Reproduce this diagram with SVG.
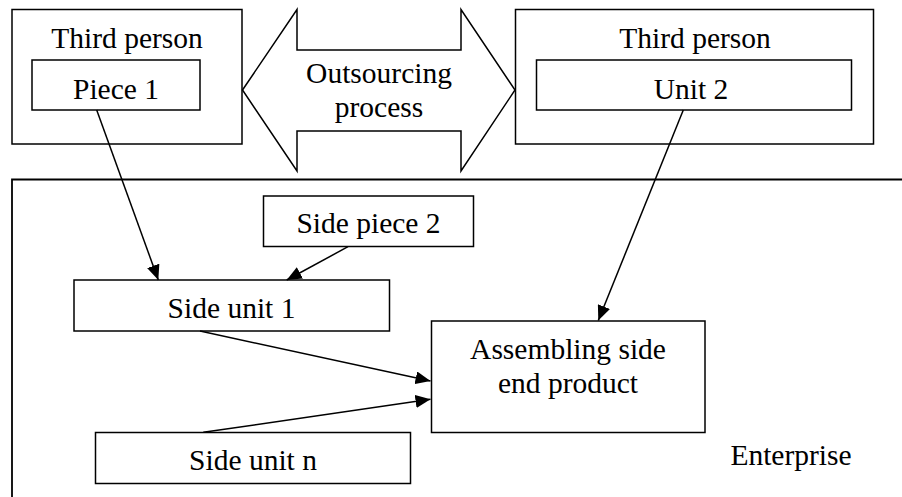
<svg xmlns="http://www.w3.org/2000/svg" width="902" height="497" viewBox="0 0 902 497">
<style>
.box{fill:#fff;stroke:#000;stroke-width:1.5}
.t{font-family:"Liberation Serif","Times New Roman",serif;font-size:29.5px;fill:#000;text-anchor:middle}
.c{stroke:#000;stroke-width:1.5;fill:none;marker-end:url(#ah)}
</style>
<defs>
<marker id="ah" markerUnits="userSpaceOnUse" markerWidth="16" markerHeight="13" refX="15" refY="6.5" orient="auto">
<path d="M0,0 L15,6.5 L0,13 z" fill="#000"/>
</marker>
</defs>
<rect width="902" height="497" fill="#fff"/>
<g id="enterprise">
<path d="M12,497 V179.5 H902" fill="none" stroke="#000" stroke-width="1.8"/>
<text class="t" x="791" y="465">Enterprise</text>
</g>
<g id="third-person-left">
<rect class="box" x="12" y="9.5" width="230" height="134.5"/>
<text class="t" x="127" y="48">Third person</text>
</g>
<g id="piece1">
<rect class="box" x="32" y="60" width="168" height="50"/>
<text class="t" x="116" y="99">Piece 1</text>
</g>
<g id="outsourcing">
<polygon class="box" points="242.5,90 297,9.5 297,50 461,50 461,9.5 515,90 461,171 461,131 297,131 297,171"/>
<text class="t" x="379" y="83">Outsourcing</text>
<text class="t" x="379" y="117">process</text>
</g>
<g id="third-person-right">
<rect class="box" x="515.5" y="9.5" width="358" height="134.5"/>
<text class="t" x="695" y="48">Third person</text>
</g>
<g id="unit2">
<rect class="box" x="536.5" y="60" width="315" height="50"/>
<text class="t" x="691" y="98.5">Unit 2</text>
</g>
<g id="side-piece2">
<rect class="box" x="263.5" y="196" width="210" height="50.5"/>
<text class="t" x="368.5" y="233">Side piece 2</text>
</g>
<g id="side-unit1">
<rect class="box" x="74" y="280" width="315.5" height="51"/>
<text class="t" x="231.5" y="318">Side unit 1</text>
</g>
<g id="assembling">
<rect class="box" x="431.5" y="321" width="273.5" height="111.5"/>
<text class="t" x="568" y="359">Assembling side</text>
<text class="t" x="568" y="393">end product</text>
</g>
<g id="side-unitn">
<rect class="box" x="95.5" y="432.5" width="315" height="51"/>
<text class="t" x="253" y="470">Side unit n</text>
</g>
<g id="connectors">
<line class="c" x1="96.7" y1="110" x2="158.3" y2="280"/>
<line class="c" x1="348" y1="246.7" x2="286.7" y2="280"/>
<line class="c" x1="683.3" y1="110" x2="598.3" y2="320.5"/>
<line class="c" x1="200" y1="331" x2="430.5" y2="381"/>
<line class="c" x1="203.3" y1="432.3" x2="430.5" y2="399.3"/>
</g>
</svg>
